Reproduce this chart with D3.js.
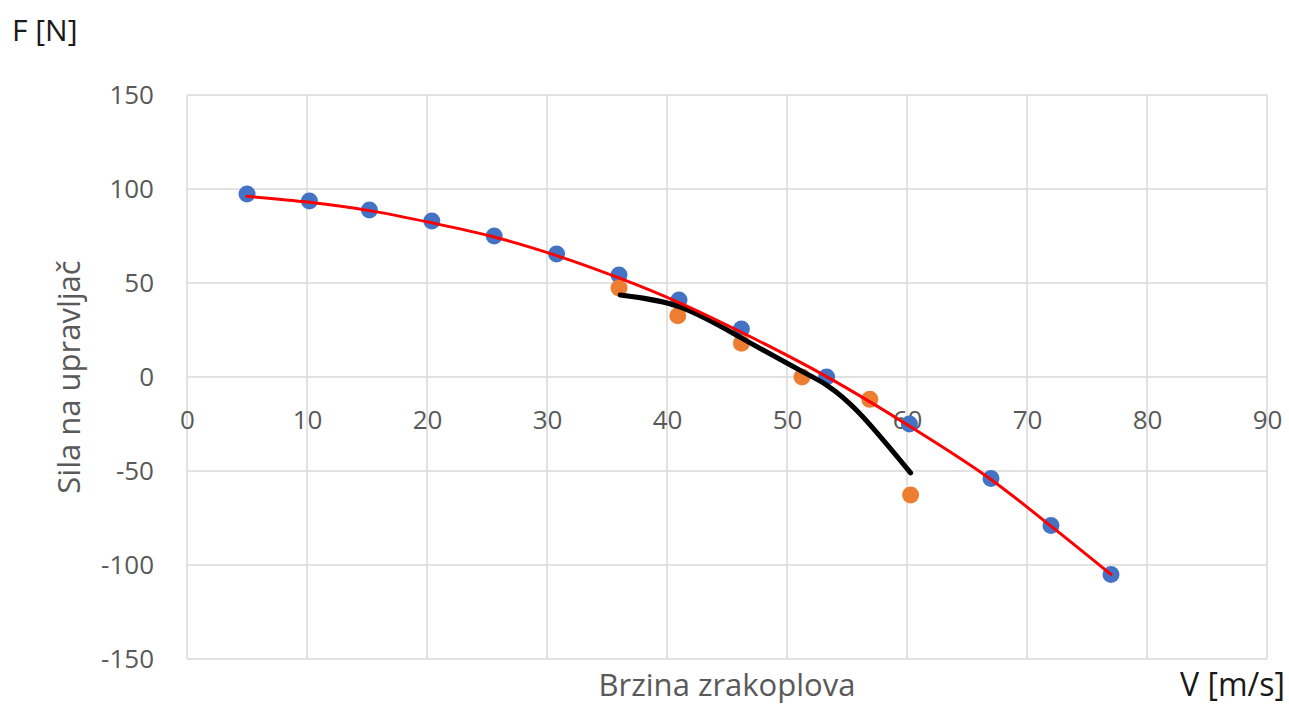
<!DOCTYPE html>
<html>
<head>
<meta charset="utf-8">
<script src="https://cdn.jsdelivr.net/npm/d3@7"></script>
<style>
  body { margin: 0; background: #fff; }
  svg { display: block; font-family: "Open Sans", sans-serif; }
</style>
</head>
<body>
<div id="chart"></div>
<script>
// measured points (blue)
const blueV = [5.0, 10.2, 15.2, 20.4, 25.6, 30.8, 36.0, 41.0, 46.2, 53.3, 60.2, 67.0, 72.0, 77.0];
const blueF = [97.3, 93.6, 88.8, 83.0, 75.0, 65.4, 54.3, 41.0, 25.5, 0.0, -25.0, -54.0, -79.0, -105.0];
// second series (orange)
const orangeV = [36.0, 40.9, 46.2, 51.25, 56.9, 60.3];
const orangeF = [47.3, 32.6, 18.0, 0.0, -11.9, -62.8];
// red trend line
const redV = [5.0, 10.2, 15.2, 20.4, 25.6, 30.8, 36.0, 41.0, 46.2, 53.3, 60.3, 67.0, 72.0, 77.0];
const redF = [96.1, 92.9, 88.5, 82.0, 74.5, 64.6, 52.7, 39.6, 23.8, 0.2, -26.5, -54.5, -79.3, -105.0];
// black trend line
const blackV = [36.1, 41.0, 46.0, 51.25, 53.3, 56.0, 60.3];
const blackF = [43.6, 37.4, 21.5, 3.0, -4.3, -19.0, -51.0];

const xTicks = [0, 10, 20, 30, 40, 50, 60, 70, 80, 90];
const yTicks = [-150, -100, -50, 0, 50, 100, 150];

const width = 1289, height = 706;
const margin = {top: 95, right: 22, bottom: 47, left: 187};
const innerW = width - margin.left - margin.right;
const innerH = height - margin.top - margin.bottom;

const svg = d3.select("#chart").append("svg")
  .attr("width", width)
  .attr("height", height);

const g = svg.append("g")
  .attr("transform", `translate(${margin.left},${margin.top})`);

const x = d3.scaleLinear().domain([0, 90]).range([0, innerW]);
const y = d3.scaleLinear().domain([-150, 150]).range([innerH, 0]);

// grid
g.append("g")
  .selectAll("line")
  .data(xTicks)
  .join("line")
    .attr("x1", d => x(d)).attr("x2", d => x(d))
    .attr("y1", 0).attr("y2", innerH)
    .attr("stroke", "#d9d9d9").attr("stroke-width", 1.5);
g.append("g")
  .selectAll("line")
  .data(yTicks)
  .join("line")
    .attr("x1", 0).attr("x2", innerW)
    .attr("y1", d => y(d)).attr("y2", d => y(d))
    .attr("stroke", "#d9d9d9").attr("stroke-width", 1.5);

// y axis labels (plain hyphen for negatives)
const yAxis = d3.axisLeft(y).tickValues(yTicks).tickSize(0).tickPadding(33)
  .tickFormat(d => String(d));
g.append("g")
  .call(yAxis)
  .call(a => a.select(".domain").remove())
  .call(a => a.selectAll("text")
    .attr("font-size", 26)
    .attr("font-family", "'Open Sans', sans-serif")
    .attr("fill", "#595959"));

// x axis labels along F = 0
const xAxis = d3.axisBottom(x).tickValues(xTicks).tickSize(0).tickPadding(34)
  .tickFormat(d => String(d));
g.append("g")
  .attr("transform", `translate(0,${y(0)})`)
  .call(xAxis)
  .call(a => a.select(".domain").remove())
  .call(a => a.selectAll("text")
    .attr("font-size", 26)
    .attr("font-family", "'Open Sans', sans-serif")
    .attr("fill", "#595959"));

const line = d3.line()
  .x(d => x(d[0]))
  .y(d => y(d[1]))
  .curve(d3.curveMonotoneX);

const smoothLine = d3.line()
  .x(d => x(d[0]))
  .y(d => y(d[1]))
  .curve(d3.curveNatural);

const blue = blueV.map((v, i) => [v, blueF[i]]);
const orange = orangeV.map((v, i) => [v, orangeF[i]]);
const red = redV.map((v, i) => [v, redF[i]]);
const black = blackV.map((v, i) => [v, blackF[i]]);

g.append("g")
  .selectAll("circle")
  .data(blue)
  .join("circle")
    .attr("cx", d => x(d[0]))
    .attr("cy", d => y(d[1]))
    .attr("r", 8.5)
    .attr("fill", "#4472c4");

g.append("g")
  .selectAll("circle")
  .data(orange)
  .join("circle")
    .attr("cx", d => x(d[0]))
    .attr("cy", d => y(d[1]))
    .attr("r", 8.5)
    .attr("fill", "#ed7d31");

g.append("path")
  .datum(black)
  .attr("fill", "none")
  .attr("stroke", "#000")
  .attr("stroke-width", 5)
  .attr("stroke-linecap", "round")
  .attr("d", smoothLine);

g.append("path")
  .datum(red)
  .attr("fill", "none")
  .attr("stroke", "#ff0000")
  .attr("stroke-width", 3)
  .attr("stroke-linecap", "round")
  .attr("d", line);

// titles
svg.append("text")
  .attr("x", 12).attr("y", 41)
  .attr("font-size", 30)
  .attr("fill", "#1a1a1a")
  .text("F [N]");

svg.append("text")
  .attr("transform", `translate(80,377) rotate(-90)`)
  .attr("text-anchor", "middle")
  .attr("font-size", 31)
  .attr("fill", "#595959")
  .text("Sila na upravljač");

svg.append("text")
  .attr("x", 727).attr("y", 696)
  .attr("text-anchor", "middle")
  .attr("font-size", 31)
  .attr("fill", "#595959")
  .text("Brzina zrakoplova");

svg.append("text")
  .attr("x", 1285).attr("y", 696)
  .attr("text-anchor", "end")
  .attr("font-size", 32)
  .attr("fill", "#1a1a1a")
  .text("V [m/s]");
</script>
</body>
</html>
